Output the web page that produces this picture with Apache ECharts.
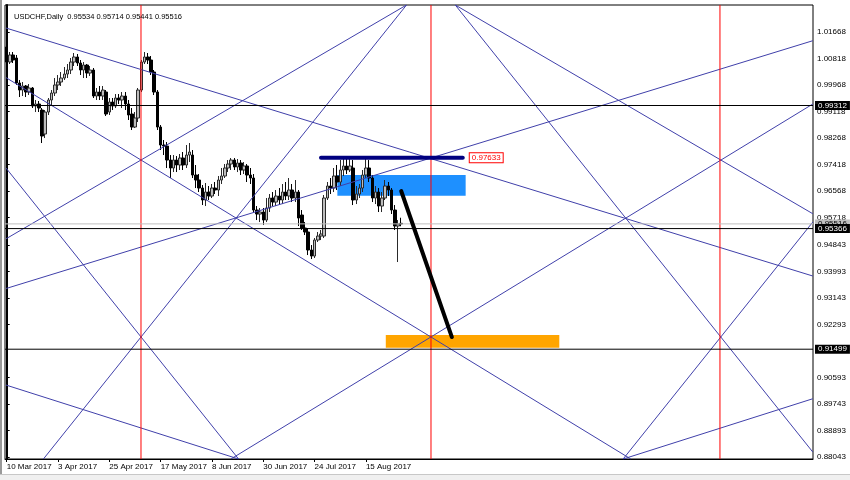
<!DOCTYPE html>
<html><head><meta charset="utf-8">
<script src="https://cdn.jsdelivr.net/npm/echarts@6/dist/echarts.min.js"></script>
<style>html,body{margin:0;padding:0;background:#fff}#c{width:850px;height:480px}</style>
</head><body><div id="c"></div>
<script>
const symbolName = 'USDCHF,Daily';
const dateLabels = ['10 Mar 2017','3 Apr 2017','25 Apr 2017','17 May 2017','8 Jun 2017','30 Jun 2017','24 Jul 2017','15 Aug 2017'];
const dateLabelBars = [0,16,32,48,64,80,96,112];
const priceTicks = [1.01668,1.00818,0.99968,0.99118,0.98268,0.97418,0.96568,0.95718,0.94843,0.93993,0.93143,0.92293,0.90593,0.89743,0.88893,0.88043];

const opens = [1.01187,1.00706,1.00931,1.00834,1.00033,0.99808,0.99937,0.99744,0.99873,0.99295,
0.99360,0.99167,0.98398,0.99103,0.99488,0.99712,0.99969,1.00065,1.00193,1.00321,
1.00450,1.00706,1.00867,1.00674,1.00450,1.00610,1.00353,1.00450,0.99616,0.99744,
0.99616,0.99744,0.99103,0.99424,0.99295,0.99552,0.99488,0.99616,0.99360,0.99039,
0.98622,0.98911,0.99808,1.00706,1.00867,1.00770,1.00386,0.99744,0.98622,0.98045,
0.98013,0.97564,0.97308,0.97564,0.97404,0.97628,0.97404,0.97724,0.97724,0.97083,
0.96923,0.96666,0.96282,0.96538,0.96410,0.96666,0.96602,0.96923,0.97051,0.97308,
0.97436,0.97564,0.97340,0.97468,0.97244,0.97372,0.97083,0.96987,0.95961,0.95833,
0.95897,0.95640,0.96025,0.96346,0.96217,0.96410,0.96282,0.96538,0.96410,0.96602,
0.96346,0.96538,0.95801,0.95384,0.95256,0.94679,0.94486,0.94999,0.95127,0.95127,
0.96346,0.96731,0.96666,0.97051,0.96859,0.97244,0.97372,0.97244,0.97308,0.96282,
0.96474,0.96666,0.97083,0.97308,0.96987,0.96346,0.96538,0.96089,0.96346,0.96731,
0.96602,0.95961,0.95448,0.95534];
const closes = [1.00706,1.00931,1.00770,1.00033,0.99808,0.99937,0.99744,0.99873,0.99295,0.99360,
0.99231,0.98334,0.99103,0.99488,0.99712,0.99969,1.00065,1.00193,1.00321,1.00450,
1.00706,1.00867,1.00674,1.00450,1.00610,1.00353,1.00450,0.99616,0.99744,0.99616,
0.99808,0.99039,0.99424,0.99295,0.99552,0.99488,0.99616,0.99360,0.99007,0.98622,
0.98911,0.99808,1.00706,1.00867,1.00770,1.00386,0.99744,0.98622,0.98045,0.98013,
0.97564,0.97308,0.97564,0.97404,0.97628,0.97404,0.97724,0.97821,0.97083,0.96923,
0.96666,0.96282,0.96538,0.96410,0.96666,0.96602,0.96923,0.97051,0.97308,0.97436,
0.97564,0.97340,0.97468,0.97244,0.97372,0.97083,0.96987,0.95961,0.95833,0.95897,
0.95640,0.96025,0.96346,0.96217,0.96410,0.96282,0.96538,0.96410,0.96602,0.96346,
0.96538,0.95704,0.95384,0.95256,0.94679,0.94486,0.94999,0.95127,0.95192,0.96346,
0.96731,0.96666,0.97051,0.96859,0.97244,0.97372,0.97244,0.97372,0.96282,0.96474,
0.96666,0.97083,0.97308,0.96987,0.96346,0.96538,0.96089,0.96346,0.96731,0.96602,
0.95961,0.95448,0.95512,0.95516];
const highs = [1.01412,1.01027,1.01027,1.00931,1.00129,1.00065,0.99969,1.00001,0.99905,0.99488,
0.99456,0.99231,0.99167,0.99552,0.99808,1.00193,1.00289,1.00386,1.00546,1.00642,
1.00834,1.00995,1.00963,1.00770,1.00706,1.00642,1.00578,1.00514,0.99873,0.99937,
0.99937,0.99808,0.99552,0.99552,0.99680,0.99680,0.99744,0.99744,0.99488,0.99231,
0.99103,0.99873,1.00770,1.01027,1.00995,1.00899,1.00450,0.99808,0.98686,0.98205,
0.98141,0.97724,0.97724,0.97692,0.97757,0.97821,0.98045,0.98109,0.97885,0.97404,
0.97115,0.96763,0.96827,0.96731,0.96795,0.96859,0.97051,0.97308,0.97436,0.97564,
0.97628,0.97628,0.97596,0.97564,0.97500,0.97436,0.97308,0.97115,0.96089,0.96025,
0.96025,0.96346,0.96474,0.96538,0.96602,0.96666,0.96795,0.96859,0.96987,0.96795,
0.96923,0.96602,0.95961,0.95576,0.95384,0.94839,0.95063,0.95256,0.95320,0.96442,
0.96859,0.96987,0.97308,0.97404,0.97564,0.97628,0.97660,0.97628,0.97564,0.96731,
0.96795,0.97244,0.97628,0.97564,0.97083,0.96731,0.96666,0.96538,0.96923,0.96859,
0.96666,0.96121,0.95640,0.95714];
const lows = [1.00642,1.00642,1.00674,0.99969,0.99584,0.99616,0.99584,0.99648,0.99231,0.99103,
0.99103,0.98109,0.98269,0.99007,0.99295,0.99616,0.99808,0.99937,1.00129,1.00193,
1.00321,1.00578,1.00578,1.00289,1.00193,1.00193,1.00257,0.99552,0.99488,0.99488,
0.99488,0.98975,0.99007,0.99167,0.99231,0.99360,0.99231,0.99167,0.98847,0.98526,
0.98590,0.98782,0.99744,1.00642,1.00642,1.00289,0.99648,0.98526,0.97885,0.97724,
0.97308,0.96987,0.97179,0.97179,0.97244,0.97244,0.97308,0.97500,0.96987,0.96666,
0.96538,0.96121,0.96089,0.96282,0.96346,0.96474,0.96410,0.96795,0.96987,0.97179,
0.97244,0.97244,0.97179,0.97083,0.97115,0.96859,0.96795,0.95865,0.95640,0.95576,
0.95480,0.95576,0.95897,0.96089,0.96089,0.96153,0.96153,0.96282,0.96282,0.96217,
0.96217,0.95448,0.95320,0.95159,0.94518,0.94390,0.94422,0.94935,0.94999,0.95063,
0.96282,0.96474,0.96538,0.96602,0.96731,0.97051,0.97115,0.97179,0.96121,0.96153,
0.96346,0.96538,0.96987,0.96859,0.96217,0.96153,0.95897,0.95897,0.96282,0.96410,
0.95833,0.95320,0.94294,0.95441];

// trend lines: [[bar, price], [bar, price]]
const trendLines = [
  [[-0.22,1.01796],[251.34,0.93845]],
  [[-0.22,0.93444],[251.34,1.01389]],
  [[-0.22,1.00206],[194.6,0.87978]],
  [[69.9,0.87978],[251.34,0.99360]],
  [[-0.22,0.97308],[72.3,0.87978]],
  [[192.2,0.87978],[251.34,0.95576]],
  [[-0.22,0.90350],[72.3,0.87978]],
  [[192.2,0.87978],[251.34,0.89911]],
  [[11.44,0.87978],[124.66,1.02534]],
  [[139.87,1.02534],[251.34,0.88202]],
  [[-0.22,0.95038],[124.66,1.02534]],
  [[139.87,1.02534],[251.34,0.95842]]
];
const redVerticalBars = [41.87, 132.29, 222.39];
const blackLevels = [0.99312, 0.95366, 0.91499];
const bidLevel = 0.95516;
const resistanceLine = [[98, 0.97633],[142.2, 0.97633]];
const resistanceLabel = '0.97633';
const projectionLine = [[123, 0.96570],[138.8, 0.91889]];
const blueZone = [[103.1, 0.97083],[143.1, 0.96420]];
const orangeZone = [[118.2, 0.91953],[172.3, 0.91546]];

const X_MIN = -0.53, X_MAX = 251.4, Y_MIN = 0.87979, Y_MAX = 1.02534;
const FONT = 'Liberation Sans';
const candleData = opens.map((o, i) => [i, o, closes[i], lows[i], highs[i]]);
const last = opens.length - 1;
const fmt = v => v.toFixed(5);

const series = [];
series.push({
  type: 'line', data: [], z: 1, silent: true,
  markArea: { silent: true, data: [
    [{ coord: blueZone[0], itemStyle: { color: '#1e90ff' } }, { coord: blueZone[1] }],
    [{ coord: orangeZone[0], itemStyle: { color: '#ffa500' } }, { coord: orangeZone[1] }]
  ]}
});
series.push({
  type: 'candlestick', z: 2, data: candleData, barWidth: 3,
  encode: { x: 0, y: [1, 2, 3, 4] },
  itemStyle: { color: '#bdbdbd', color0: '#000000', borderColor: '#2a2a2a', borderColor0: '#000000', borderWidth: 1 },
  silent: true
});
trendLines.forEach(l => series.push({
  type: 'line', data: l, symbol: 'none', z: 3, silent: true, clip: true,
  lineStyle: { color: '#4040aa', width: 1 }
}));
redVerticalBars.forEach(b => series.push({
  type: 'line', data: [[b, Y_MIN], [b, Y_MAX]], symbol: 'none', z: 4, silent: true,
  lineStyle: { color: '#ff0000', width: 1 }
}));
series.push({
  type: 'line', data: [[X_MIN, bidLevel], [X_MAX, bidLevel]], symbol: 'none', z: 4, silent: true,
  lineStyle: { color: '#c0c0c0', width: 1 },
  endLabel: { show: true, formatter: fmt(bidLevel), distance: 2, color: '#000', backgroundColor: '#c0c0c0', padding: [1, 3, 0, 3], fontSize: 8, fontFamily: FONT }
});
blackLevels.forEach(v => series.push({
  type: 'line', data: [[X_MIN, v], [X_MAX, v]], symbol: 'none', z: 5, silent: true,
  lineStyle: { color: '#000', width: 1 },
  endLabel: { show: true, formatter: fmt(v), distance: 2, color: '#fff', backgroundColor: '#000', padding: [1, 3, 0, 3], fontSize: 8, fontFamily: FONT }
}));
series.push({
  type: 'line', data: resistanceLine, symbol: 'none', z: 6, silent: true,
  lineStyle: { color: '#000080', width: 4, cap: 'round' },
  endLabel: { show: true, formatter: resistanceLabel, color: '#ff0000', backgroundColor: '#fff', borderColor: '#ff0000', borderWidth: 1, padding: [1, 2, 0, 2], fontSize: 8, fontFamily: FONT, distance: 7 }
});
series.push({
  type: 'line', data: projectionLine, symbol: 'none', z: 6, silent: true,
  lineStyle: { color: '#000', width: 4, cap: 'round' }
});

const option = {
  animation: false,
  backgroundColor: '#fff',
  graphic: [
    { type: 'rect', shape: { x: 0, y: 0, width: 2, height: 475 }, style: { fill: '#9a9a9a' }, silent: true },
    { type: 'rect', shape: { x: 0, y: 475, width: 850, height: 5 }, style: { fill: '#f0f0f0' }, silent: true },
    { type: 'rect', shape: { x: 0, y: 474, width: 850, height: 1 }, style: { fill: '#c8c8c8' }, silent: true }
  ],
  title: {
    text: symbolName + '  ' + [opens[last], highs[last], lows[last], closes[last]].map(fmt).join(' '),
    left: 9, top: 8,
    textStyle: { fontSize: 7.5, fontWeight: 'normal', fontFamily: FONT, color: '#000' }
  },
  grid: { left: 5, right: 37, top: 5, bottom: 21, show: true, borderColor: '#000', borderWidth: 1, backgroundColor: 'transparent' },
  xAxis: {
    type: 'value', min: X_MIN, max: X_MAX,
    axisLine: { show: true, lineStyle: { color: '#000', width: 1 } },
    axisTick: { show: true, length: 3, lineStyle: { color: '#000' }, customValues: dateLabelBars },
    axisLabel: { customValues: dateLabelBars, align: 'left', margin: 4, fontSize: 8, fontFamily: FONT, color: '#000',
      formatter: v => { const k = dateLabelBars.indexOf(Math.round(v)); return k >= 0 ? dateLabels[k] : ''; } },
    splitLine: { show: false }
  },
  yAxis: {
    type: 'value', position: 'right', min: Y_MIN, max: Y_MAX,
    axisLine: { show: true, lineStyle: { color: '#000', width: 2 } },
    axisTick: { show: true, length: 3, inside: false, lineStyle: { color: '#000' }, customValues: priceTicks },
    axisLabel: { customValues: priceTicks, margin: 4, fontSize: 8, fontFamily: FONT, color: '#000', formatter: v => v.toFixed(5) },
    splitLine: { show: false }
  },
  series
};
const chart = echarts.init(document.getElementById('c'), null, { renderer: 'canvas' });
chart.setOption(option);
</script></body></html>
